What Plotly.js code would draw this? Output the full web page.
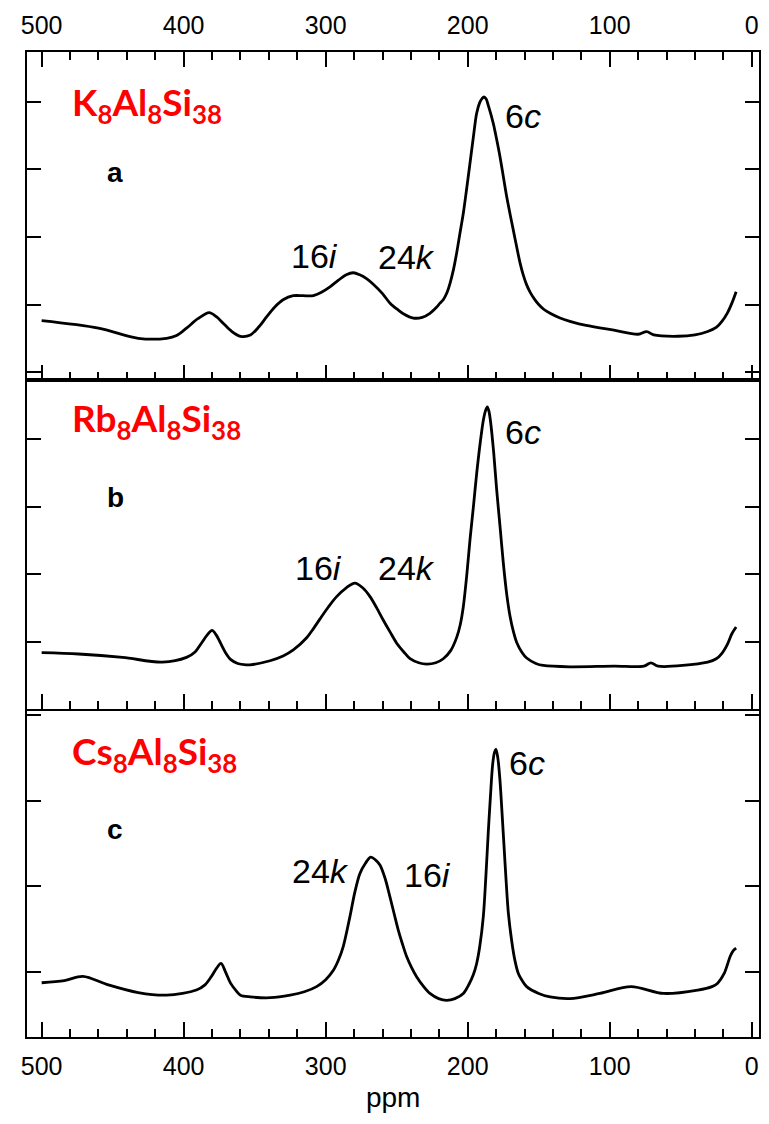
<!DOCTYPE html>
<html>
<head>
<meta charset="utf-8">
<script src="https://cdn.plot.ly/plotly-3.0.1.min.js"></script>
<style>html,body{margin:0;padding:0;background:#fff;}#chart{width:769px;height:1124px;}</style>
</head>
<body>
<div id="chart"></div>
<script>
// ---- data (ppm vs intensity, arbitrary units) ----
const ppmA = [500,460,432,412,405,398,390,382,377,372,366,360,353,347,341.5,336,330,322.8,316,308.7,303,297,291,285.5,280.6,276,271,266.5,260,254.7,249,245,238.3,232,226.6,222,219.5,217.2,214.5,212.5,210,207.8,205.5,203.1,200.7,198.4,196,193.7,191.5,189.8,188.6,187,185.3,182,179.6,177.3,174.9,172.5,170.2,167.9,165.5,163.2,160.8,158.5,156,153,150,146.5,142,135,128,121,97,80,74,69,52,40,31,25,21,17,14,11];
const intA = [0.76,0.65,0.50,0.50,0.54,0.65,0.79,0.88,0.82,0.72,0.60,0.53,0.55,0.67,0.82,0.96,1.07,1.13,1.13,1.13,1.18,1.26,1.36,1.44,1.47,1.44,1.38,1.30,1.16,1.02,0.92,0.86,0.80,0.81,0.87,0.96,1.02,1.07,1.18,1.31,1.52,1.76,2.05,2.35,2.72,3.09,3.48,3.83,3.99,4.05,4.07,4.04,3.93,3.68,3.44,3.19,2.89,2.59,2.34,2.10,1.85,1.62,1.43,1.29,1.18,1.08,1.00,0.93,0.87,0.80,0.75,0.71,0.62,0.56,0.60,0.55,0.53,0.55,0.60,0.66,0.75,0.88,1.02,1.19];

const ppmB = [500,474,443,415,398,392,387.5,383.5,380,377,374,370.5,367,362,356,353.3,339.2,330,322.8,313.4,308.5,304,298,292.3,285.5,279.4,274,268.8,264,259.4,254.5,250,245,240.6,234.5,228.9,222.5,217.2,212,207.7,205.3,203.1,200.7,198.4,196,193.7,191.3,189,187.5,186.2,185,183.8,181.7,179.6,177.2,174.9,172.5,170.2,167.8,165.5,162,158.5,152,146.8,128,97,76,71,66,31,25,21,17,14,11];
const intB = [0.84,0.82,0.77,0.70,0.77,0.85,0.98,1.10,1.17,1.10,0.98,0.84,0.74,0.68,0.66,0.66,0.72,0.79,0.88,1.06,1.20,1.34,1.52,1.67,1.80,1.87,1.80,1.67,1.50,1.32,1.14,0.98,0.85,0.75,0.69,0.67,0.69,0.75,0.87,1.07,1.25,1.52,1.98,2.51,3.00,3.49,3.93,4.28,4.42,4.48,4.41,4.24,3.80,3.25,2.70,2.16,1.70,1.38,1.15,0.99,0.85,0.76,0.68,0.65,0.63,0.64,0.64,0.69,0.64,0.70,0.75,0.83,0.97,1.12,1.22];

const ppmC = [500,484,471,453,432,412,391,385,380.6,377,373.7,370.5,367,363,360,353,339,325,315,306.4,300,294.6,291,287.6,282.9,279.5,275.9,272,268.3,265,261.8,258.3,254.8,251.8,248.9,246,243,239.5,236,231,226.6,220.5,214.8,209,203.1,199,196,193.7,191.5,189,187.2,185.5,184,182.4,181.2,180.1,178.8,177.3,175.8,174.4,172.9,171.4,169,166.7,164.5,162,158.5,150,142,128,107,85,62,38,28,24,19.5,15,13,11];
const intC = [0.875,0.90,0.95,0.85,0.76,0.73,0.79,0.85,0.945,1.04,1.10,1.00,0.87,0.78,0.73,0.71,0.70,0.73,0.77,0.83,0.91,1.02,1.14,1.30,1.65,1.93,2.15,2.27,2.34,2.31,2.25,2.10,1.88,1.68,1.49,1.33,1.18,1.05,0.945,0.83,0.75,0.69,0.67,0.69,0.75,0.86,0.97,1.10,1.30,1.65,2.12,2.64,3.05,3.43,3.56,3.60,3.50,3.24,2.85,2.46,2.05,1.69,1.36,1.13,0.99,0.91,0.83,0.75,0.71,0.69,0.75,0.83,0.75,0.79,0.83,0.87,0.98,1.19,1.25,1.28];

const xTickVals = [500,400,300,200,100,0];
const xTickText = ['500','400','300','200','100','0'];
const formulas = ['K<sub>8</sub>Al<sub>8</sub>Si<sub>38</sub>','Rb<sub>8</sub>Al<sub>8</sub>Si<sub>38</sub>','Cs<sub>8</sub>Al<sub>8</sub>Si<sub>38</sub>'];
const panelLetters = ['a','b','c'];
const xTitle = 'ppm';

// ---- layout helpers ----
const W = 769, H = 1124;
const px = v => v / W;
const py = v => 1 - v / H;

const lineStyle = {color:'#000', width:2.8, shape:'spline', smoothing:0.9};
const traces = [
  {x:ppmA, y:intA, xaxis:'x', yaxis:'y', mode:'lines', line:lineStyle, hoverinfo:'skip'},
  {x:ppmB, y:intB, xaxis:'x2', yaxis:'y2', mode:'lines', line:lineStyle, hoverinfo:'skip'},
  {x:ppmC, y:intC, xaxis:'x3', yaxis:'y3', mode:'lines', line:lineStyle, hoverinfo:'skip'}
];

const xDom = [px(27.3), px(759)];
const xRange = [510.1, -5.1];
const tickFont = {family:'Liberation Sans, Arial, sans-serif', size:25, color:'#000'};
function xAxis(extra){
  return Object.assign({
    domain:xDom, range:xRange, autorange:false,
    tickmode:'array', tickvals:xTickVals, ticktext:xTickText,
    ticks:'inside', ticklen:15, tickwidth:2, tickcolor:'#000',
    minor:{dtick:20, tick0:0, ticks:'inside', ticklen:8, tickwidth:2, tickcolor:'#000', showgrid:false},
    showline:true, linewidth:2, linecolor:'#000',
    showgrid:false, zeroline:false, tickfont:tickFont
  }, extra);
}
function yAxis(extra){
  return Object.assign({
    ticks:'inside', ticklen:14, tickwidth:2, tickcolor:'#000',
    showticklabels:false, showline:true, linewidth:2, linecolor:'#000',
    mirror:'ticks', showgrid:false, zeroline:false, autorange:false
  }, extra);
}

const layout = {
  width:W, height:H,
  margin:{l:0, r:0, t:0, b:0},
  paper_bgcolor:'#fff', plot_bgcolor:'rgba(0,0,0,0)',
  showlegend:false,
  xaxis: xAxis({anchor:'y', side:'top', mirror:'ticks', showticklabels:true, ticklabelstandoff:6}),
  xaxis2: xAxis({anchor:'y2', side:'bottom', mirror:true, showticklabels:false}),
  xaxis3: xAxis({anchor:'y3', side:'bottom', mirror:true, showticklabels:true, ticklabelstandoff:6,
                 title:{text:xTitle, font:{family:'Liberation Sans, Arial, sans-serif', size:28, color:'#000'}, standoff:8}}),
  yaxis: yAxis({anchor:'x', domain:[py(380), py(51.7)], range:[-0.117, 4.74], tickvals:[0,1,2,3,4]}),
  yaxis2: yAxis({anchor:'x2', domain:[py(708.5), py(380)], range:[0.013, 4.877], tickvals:[1,2,3,4]}),
  yaxis3: yAxis({anchor:'x3', domain:[py(1037.3), py(711)], range:[0.238, 4.047], tickvals:[1,2,3,4]}),
  annotations:[]
};

const redFont = {family:'Lato, "Open Sans", sans-serif', size:37, color:'#ff0000', weight:700};
const letterFont = {family:'Liberation Sans, Arial, sans-serif', size:28, color:'#000', weight:700};
const peakFont = {family:'Liberation Sans, Arial, sans-serif', size:34, color:'#000'};

const formulaY = [104, 421, 753];
const letterY = [173, 498, 829];
formulas.forEach((t,i)=>{
  layout.annotations.push({text:'<b>'+t+'</b>', xref:'paper', yref:'paper', x:px(70), y:py(formulaY[i]),
    xanchor:'left', yanchor:'middle', showarrow:false, font:redFont});
  layout.annotations.push({text:'<b>'+panelLetters[i]+'</b>', xref:'paper', yref:'paper', x:px(115), y:py(letterY[i]),
    xanchor:'center', yanchor:'middle', showarrow:false, font:letterFont});
});

// peak labels [text, ppm, pixel-y]
const peakLabels = [
  ['6<i>c</i>', 161, 116], ['16<i>i</i>', 308, 256], ['24<i>k</i>', 243, 256.5],
  ['6<i>c</i>', 161, 432.5], ['16<i>i</i>', 305, 567.5], ['24<i>k</i>', 243, 567.5],
  ['6<i>c</i>', 158.5, 762.5], ['24<i>k</i>', 303.7, 870.5], ['16<i>i</i>', 228.3, 875]
];
peakLabels.forEach(p=>{
  layout.annotations.push({text:p[0], xref:'x', yref:'paper', x:p[1], y:py(p[2]),
    xanchor:'center', yanchor:'middle', showarrow:false, font:peakFont});
});

Plotly.newPlot('chart', traces, layout, {staticPlot:true, displayModeBar:false});
</script>
</body>
</html>
